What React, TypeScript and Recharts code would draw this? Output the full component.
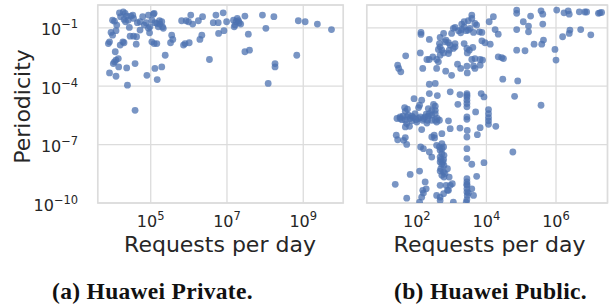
import { ScatterChart, Scatter, XAxis, YAxis, CartesianGrid, ReferenceArea } from "recharts";

// values are log10 of (requests per day, periodicity)
const privatePoints: [number, number][] = [
  [3.92,-1.72],[3.89,-1.81],[3.96,-1.24],[4.00,-0.61],[4.05,-0.66],[4.09,-1.15],[4.11,-0.86],[4.07,-2.23],
  [4.05,-2.75],[4.02,-2.84],[4.09,-2.66],[4.15,-2.58],[4.16,-3.01],[3.92,-3.32],[4.09,-3.49],[4.18,-0.23],
  [4.28,-0.19],[4.33,-0.26],[4.37,-0.40],[4.30,-0.57],[4.34,-0.69],[4.41,-0.61],[4.44,-0.98],[4.20,-1.89],
  [4.27,-1.72],[4.30,-1.77],[4.37,-3.06],[4.39,-3.95],[4.48,-0.40],[4.53,-0.35],[4.46,-1.43],[4.55,-1.43],
  [4.63,-1.46],[4.62,-1.84],[4.59,-2.84],[4.59,-5.24],[4.65,-0.74],[4.72,-0.69],[4.79,-0.43],[4.83,-0.86],
  [4.88,-0.74],[4.94,-0.35],[4.90,-3.44],[4.94,-1.03],[4.98,-0.95],[4.97,-1.26],[5.03,-0.61],[5.07,-0.30],
  [5.09,-0.26],[5.03,-1.72],[5.09,-1.81],[5.11,-3.09],[5.16,-0.78],[5.20,-0.95],[5.23,-0.64],[5.24,-0.81],
  [5.29,-0.69],[5.33,-1.03],[5.31,-0.95],[5.16,-1.81],[5.17,-3.66],[5.38,-2.41],[5.29,-3.01],[5.55,-1.38],
  [5.58,-1.60],[5.52,-1.77],[5.81,-0.64],[5.86,-1.89],[5.93,-0.64],[5.90,-1.81],[5.99,-0.69],[6.05,-0.35],
  [6.01,-1.77],[6.10,-0.81],[6.25,-0.64],[6.36,-0.43],[6.29,-1.60],[6.34,-1.38],[6.54,-2.63],[6.64,-0.74],
  [6.71,-0.35],[6.77,-0.74],[6.78,-1.29],[6.90,-0.23],[6.92,-1.15],[6.99,-0.69],[7.17,-0.61],[7.21,-0.86],
  [7.24,-0.69],[7.27,-0.52],[7.30,-0.64],[7.32,-0.74],[7.36,-0.81],[7.19,-0.95],[7.47,-0.40],[7.47,-2.23],
  [7.59,-2.15],[7.56,-1.33],[7.93,-0.35],[8.02,-1.03],[8.08,-3.86],[8.23,-0.43],[8.26,-2.84],[8.26,-3.01],
  [8.83,-2.41],[8.87,-0.64],[9.05,-0.69],[9.37,-0.81],[9.74,-1.09],[4.21,-0.43],[4.55,-0.52],[5.11,-0.74],
  [4.00,-1.38],[4.72,-1.12],
];

const publicPoints: [number, number][] = [
  // upper band
  [4.87,-0.09],[4.87,-0.26],[5.27,-0.40],[5.57,-0.13],[5.62,-0.30],[6.02,-0.09],[6.23,-0.23],[6.35,-0.13],
  [6.38,-0.30],[6.67,-0.18],[6.83,-0.19],[6.88,-0.19],[7.22,-0.26],[7.26,-0.23],[7.31,-0.21],[3.58,-0.35],
  [3.58,-0.52],[4.20,-0.43],[4.08,-0.69],[4.25,-1.09],[4.34,-1.33],[4.87,-1.09],[5.06,-0.69],[5.21,-0.91],
  [5.21,-1.21],[5.62,-0.81],[6.40,-1.12],[6.38,-1.29],[6.71,-1.09],[7.00,-1.36],[6.19,-1.46],[3.48,-0.64],
  [3.36,-0.69],[3.29,-0.81],[3.10,-0.98],[3.05,-1.03],[3.20,-1.15],[3.26,-1.26],[3.42,-1.15],[3.48,-1.12],
  [3.63,-1.24],[3.67,-0.78],[3.87,-1.24],[3.00,-1.29],[2.84,-1.63],[2.12,-1.24],[2.12,-1.34],[2.36,-1.60],
  [2.67,-1.50],[2.81,-1.72],[2.65,-1.81],[2.91,-1.77],[2.96,-1.89],[3.10,-1.81],[2.77,-1.29],[3.29,-1.09],
  [3.36,-0.95],[3.53,-1.03],[3.72,-0.86],[3.80,-1.21],
  // 1e-2 .. 1e-4
  [3.87,-1.67],[3.96,-1.77],[4.11,-1.84],[3.36,-1.81],[3.44,-2.06],[3.51,-2.15],[3.61,-2.01],[3.45,-2.29],
  [3.67,-2.58],[3.82,-2.63],[3.58,-2.63],[2.67,-1.98],[2.62,-2.11],[2.72,-2.15],[2.77,-2.29],[2.91,-2.32],
  [3.05,-2.06],[3.10,-1.98],[2.93,-2.15],[2.67,-2.41],[2.10,-2.29],[2.36,-2.63],[2.46,-2.49],[2.57,-2.63],
  [2.62,-2.75],[2.29,-2.63],[1.68,-2.44],[1.45,-2.92],[1.48,-3.09],[1.54,-3.26],[2.17,-3.09],[2.57,-3.09],
  [2.83,-3.23],[3.00,-3.44],[3.17,-2.87],[3.26,-3.09],[3.44,-2.97],[3.45,-3.32],[3.63,-2.96],[3.67,-3.09],
  [3.82,-2.92],[3.89,-2.66],[4.34,-2.49],[4.44,-2.53],[4.49,-2.58],[4.87,-2.15],[5.11,-2.18],[5.37,-1.84],
  [5.59,-1.84],[5.64,-1.63],[5.97,-2.11],[6.00,-2.66],[4.47,-3.64],[4.90,-3.73],[2.36,-3.90],[2.53,-3.86],
  [2.36,-4.38],[2.59,-4.48],[2.96,-4.29],[3.24,-4.43],[3.44,-4.38],[3.44,-4.55],[3.85,-4.38],[3.93,-4.55],
  [4.81,-4.52],[5.57,-4.98],
  // 1e-5 .. 1e-7
  [1.92,-4.64],[2.14,-4.72],[2.08,-4.98],[2.05,-5.10],[1.65,-5.10],[1.73,-5.18],[1.67,-5.29],[1.71,-5.58],
  [1.52,-5.66],[1.43,-5.66],[1.81,-5.66],[1.86,-5.54],[2.05,-5.66],[2.19,-5.66],[2.24,-5.58],[2.33,-5.54],
  [2.43,-5.49],[2.53,-5.24],[2.53,-5.03],[2.48,-4.93],[2.59,-5.66],[2.31,-5.75],[2.17,-5.75],[2.43,-5.75],
  [2.53,-5.75],[2.65,-5.75],[2.91,-5.78],[1.95,-5.41],[1.71,-5.92],[1.67,-6.09],[1.79,-6.06],[2.14,-6.23],
  [3.44,-4.46],[3.44,-4.72],[3.44,-4.89],[3.44,-5.06],[3.18,-4.93],[3.44,-5.58],[3.44,-5.70],[3.69,-5.32],
  [4.06,-5.20],[4.06,-5.41],[4.06,-5.61],[4.06,-5.78],[4.06,-5.96],[4.27,-6.06],[3.82,-6.13],[3.45,-6.27],
  [3.24,-6.15],[2.96,-6.18],[1.41,-6.52],[1.45,-6.75],[1.62,-6.78],[1.67,-6.64],[1.71,-6.99],[2.72,-6.44],
  [2.51,-6.66],[2.50,-6.52],[2.43,-6.61],[3.44,-6.61],[3.74,-6.49],[1.52,-5.58],[1.60,-5.54],[1.76,-5.49],
  [1.90,-5.61],[1.98,-5.72],[2.10,-5.58],[2.27,-5.44],[2.36,-5.41],[2.53,-5.41],[2.57,-5.84],[1.86,-5.78],
  [2.00,-5.84],[2.29,-5.89],[2.43,-5.24],[2.33,-5.15],[1.67,-5.75],[1.57,-5.72],
  // below 1e-7
  [2.11,-7.12],[2.19,-7.21],[2.36,-7.38],[2.43,-7.64],[2.57,-7.04],[2.65,-7.12],[2.72,-6.95],[2.77,-7.12],
  [2.67,-7.29],[2.72,-7.47],[2.78,-7.55],[2.67,-7.64],[2.77,-7.77],[2.67,-7.89],[2.72,-8.01],[2.78,-8.07],
  [2.69,-8.24],[2.77,-8.41],[2.72,-8.58],[2.81,-8.49],[2.88,-8.24],[2.93,-8.67],[3.02,-9.01],[2.84,-9.09],
  [2.67,-9.09],[3.44,-7.21],[3.44,-7.72],[3.58,-8.01],[3.72,-8.63],[3.93,-7.93],[4.76,-7.38],[1.38,-9.04],
  [1.81,-8.53],[2.08,-8.36],[2.24,-8.92],[2.17,-9.35],[2.19,-9.49],[2.14,-9.70],[2.27,-9.27],[2.57,-9.61],
  [2.67,-9.70],[2.67,-9.87],[2.77,-9.52],[2.88,-9.35],[2.96,-9.09],[2.91,-9.35],[2.08,-9.95],[1.71,-9.75],
  [3.05,-9.95],[3.44,-8.75],[3.44,-8.92],[3.44,-9.09],[3.44,-9.27],[3.44,-9.44],[3.45,-9.61],[3.44,-9.83],
  [3.42,-9.95],[3.58,-9.27],[3.63,-9.61],[2.72,-7.21],[2.69,-7.77],[2.75,-7.89],[2.67,-8.36],[2.78,-8.67],
  [3.44,-9.04],[3.48,-9.49],
];

const privateXTicks = [5, 7, 9];
const publicXTicks = [2, 4, 6];
const yTicks = [-10, -7, -4, -1];

const privateXDomain: [number, number] = [3.61, 10.05];
const publicXDomain: [number, number] = [0.56, 7.48];
const yDomain: [number, number] = [-10, 0.17];

const DOT = "#4C72B0";
const GRID = "#dcdcdc";
const TEXT = "#262626";
const SANS = "DejaVu Sans";

const fmt = (v: number) => (v < 0 ? "\u2212" + Math.abs(v) : String(v));

const XTick = (props: any) => {
  const { x, y, payload } = props;
  return (
    <text x={x} y={y + 23.5} textAnchor="middle" fontFamily={SANS} fontSize={16} fill={TEXT}>
      <tspan>10</tspan>
      <tspan dy={-7} fontSize={11.5}>{fmt(payload.value)}</tspan>
    </text>
  );
};

const YTick = (props: any) => {
  const { x, y, payload } = props;
  return (
    <text x={x - 19.5} y={y + 7.5} textAnchor="end" fontFamily={SANS} fontSize={16} fill={TEXT}>
      <tspan>10</tspan>
      <tspan dy={-7} fontSize={11.5}>{fmt(payload.value)}</tspan>
    </text>
  );
};

const dot = (p: any) => <circle cx={p.cx} cy={p.cy} r={3.4} fill={DOT} fillOpacity={0.75} />;

function Panel({ points, xDomain, xTicks, showY, left, width, margin }: any) {
  const data = points.map(([x, y]: [number, number]) => ({ x, y }));
  return (
    <div style={{ position: "absolute", left, top: 0 }}>
      <ScatterChart width={width} height={233} margin={margin}>
        <CartesianGrid stroke={GRID} strokeWidth={1.3} />
        <XAxis
          type="number"
          dataKey="x"
          domain={xDomain}
          ticks={xTicks}
          allowDataOverflow
          axisLine={false}
          tickLine={false}
          tickSize={0}
          tickMargin={0}
          height={30}
          tick={<XTick />}
        />
        <YAxis
          type="number"
          dataKey="y"
          domain={yDomain}
          ticks={yTicks}
          allowDataOverflow
          axisLine={false}
          tickLine={false}
          tickSize={0}
          tickMargin={0}
          width={97.7}
          hide={!showY}
          tick={<YTick />}
        />
        <ReferenceArea
          x1={xDomain[0]}
          x2={xDomain[1]}
          y1={yDomain[0]}
          y2={yDomain[1]}
          fill="none"
          stroke={GRID}
          strokeWidth={1.5}
          ifOverflow="visible"
        />
        <Scatter data={data} shape={dot} isAnimationActive={false} />
      </ScatterChart>
    </div>
  );
}

export default function App() {
  return (
    <div style={{ position: "absolute", left: 0, top: 0, width: 609, height: 307, background: "#fff" }}>
      <Panel
        points={privatePoints}
        xDomain={privateXDomain}
        xTicks={privateXTicks}
        showY
        left={0}
        width={350}
        margin={{ top: 5, right: 6.7, bottom: 0, left: 0 }}
      />
      <Panel
        points={publicPoints}
        xDomain={publicXDomain}
        xTicks={publicXTicks}
        showY={false}
        left={340}
        width={269}
        margin={{ top: 5, right: 1.5, bottom: 0, left: 26.7 }}
      />
      <svg width={609} height={307} style={{ position: "absolute", left: 0, top: 0, pointerEvents: "none" }}>
        <text x={30} y={106.5} transform="rotate(-90 30 106.5)" textAnchor="middle" fontFamily={SANS} fontSize={22} fill={TEXT}>
          Periodicity
        </text>
        <text x={220} y={252.3} textAnchor="middle" fontFamily={SANS} fontSize={22} fill={TEXT}>
          Requests per day
        </text>
        <text x={489.5} y={252.3} textAnchor="middle" fontFamily={SANS} fontSize={22} fill={TEXT}>
          Requests per day
        </text>
        <text x={152.5} y={299} textAnchor="middle" fontFamily="Liberation Serif" fontWeight="bold" fontSize={23.5} letterSpacing={0.3} fill="#111">
          (a) Huawei Private.
        </text>
        <text x={490.5} y={299} textAnchor="middle" fontFamily="Liberation Serif" fontWeight="bold" fontSize={23.5} letterSpacing={0.3} fill="#111">
          (b) Huawei Public.
        </text>
      </svg>
    </div>
  );
}
